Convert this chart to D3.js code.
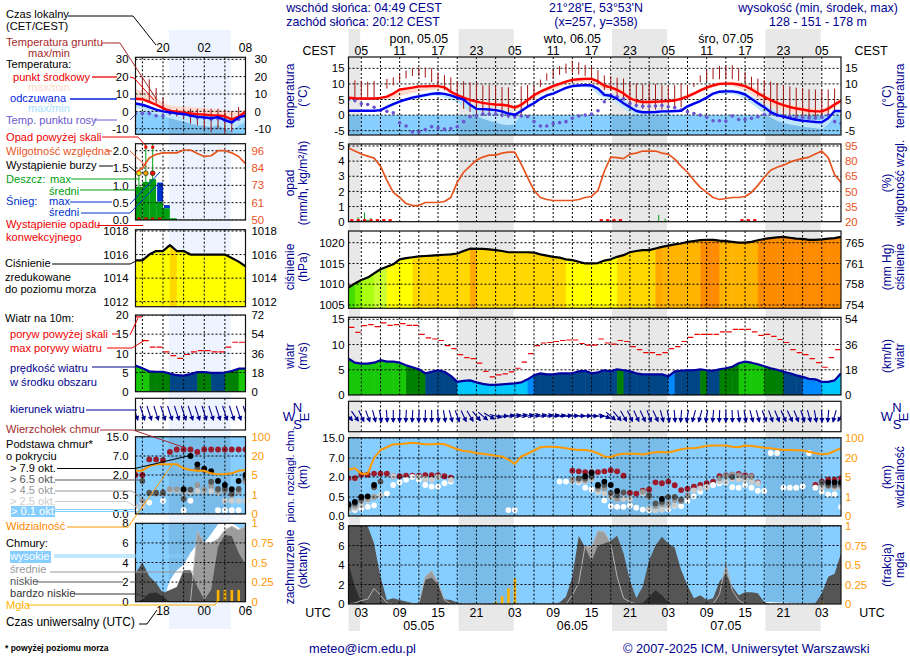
<!DOCTYPE html>
<html>
<head>
<meta charset="utf-8">
<script src="https://cdn.jsdelivr.net/npm/d3@7"></script>
<style>
html, body { margin: 0; padding: 0; background: #fff; }
svg { display: block; }
text { font-family: "Liberation Sans", Arial, sans-serif; font-size: 12px; }
.tick text { font-size: 11.4px; }
</style>
</head>
<body>
<script>
const _ = null;

// hours counted in UTC from 00:00 of 05.05, hourly model output
const hoursMain = d3.range(1, 79);
const hoursLeft = d3.range(14, 31);

// night (main) and dark part of the day (left column)
const nightsMain = [[1, 2.82], [18.2, 26.82], [42.2, 50.82], [66.2, 74.82]];
const nightsLeft = [[18.85, 27.85]];

// ---- temperature
const tempMean = [
  5.6,5.4,5.3,5.3,5.3,5.5,5.9,6.9,8.2,8.5,
  8.8,9.2,9.2,9.3,9.3,8.9,7.5,6.4,5.6,4.9,
  4.3,3.9,3.6,3.4,3.3,3,2.4,3.3,4.8,6.4,
  7.5,8.4,9.3,10,10.7,11.3,11.5,11.6,11.6,10.8,
  9.4,8.9,8.1,6.9,5.4,4.6,4.2,4.2,4.3,4.4,
  4.5,4.7,5.2,6,6.9,7.9,8.8,9.5,10,10.1,
  10.1,9.8,9.3,8.3,7,5.9,4.8,3.9,3.2,2.6,
  2.1,1.8,1.4,1.2,1.2,2,3.4,4.6];
const tempMax = [
  5.9,5.8,5.7,5.7,5.7,5.9,6.3,7.1,8.3,8.9,
  9.2,9.4,9.6,9.7,9.7,9.4,8.2,7.1,6.2,5.4,
  4.8,4.4,4.1,3.9,3.8,3.5,3,4,5.4,7,
  8.1,9.1,9.8,10.5,11.1,11.7,12,12.2,12.2,11.4,
  10.2,9.6,8.9,8,6.4,5.2,4.9,4.8,4.8,4.9,
  5,5.3,5.9,6.7,7.6,8.5,9.4,10.1,10.5,10.7,
  10.8,10.6,10.2,9.4,8.2,7,5.8,4.7,4,3.4,
  3,2.7,2.4,2.2,2.1,2.9,4,5.3];
const tempMin = [
  5,4.9,4.8,4.8,4.8,4.9,5.1,5.4,6,6.7,
  7.1,7.4,7.8,8,8.3,8.2,6.9,5.6,4.9,4.2,
  3.6,3.2,2.9,2.8,2.6,2.1,1.6,2.3,3.9,5.4,
  6.4,7.3,8.1,8.9,9.8,10.2,10.5,10.6,10.4,9.4,
  8.3,7.8,6.8,5.6,4.5,3.7,3.5,3.6,3.7,3.8,
  3.9,4.2,4.8,5.4,6.4,7.3,8,8.9,9.4,9.4,
  9.3,8.7,7.9,6.6,5.1,4,3.1,2.4,1.9,1.3,
  .8,.5,.2,.1,.1,.8,2.4,3.6];
const feelsMean = [
  1.4,1.4,1.4,1.4,1.4,1.6,2.6,3.5,4.3,5,
  5.6,6,6.4,6.8,7,6.8,6.3,5.6,5,3.3,
  2,1.9,1.8,1.6,1.2,.5,.1,1.3,2.7,3.8,
  5.2,6.3,6.9,7.8,8.7,9.3,9.5,9.6,9.5,8.5,
  6.5,6.2,5.2,3.8,2.5,1.3,.9,.9,1,1.2,
  1.2,1.3,1.4,2.8,3.7,4.5,5.6,6.9,7.5,7.6,
  7.6,7.3,6.6,5.2,3.8,2.5,1,0,-.5,-1,
  -1.5,-1.8,-2,-2.2,-2.3,-1,1.3,1.3];
const feelsMax = [
  1.6,1.6,1.6,1.6,1.6,1.9,3.2,4.1,4.8,5.5,
  6.2,6.7,7,7.4,7.5,7.1,6.5,5.8,5,3.8,
  2.4,2.2,2.1,1.9,1.6,1,.4,2,3.3,4.6,
  6,6.9,7.6,8.4,9.2,9.8,10,10.1,10,9,
  7.6,6.8,6.2,5.5,3.5,2.1,1.4,1.3,1.4,1.6,
  1.6,1.6,1.8,3.1,4,5.2,6.2,7.2,8,8.2,
  8.2,8,7.4,6.2,5,3.7,2.2,1,.2,-.4,
  -1,-1.3,-1.6,-1.7,-1.6,-.4,1.6,1.6];
const feelsMin = [
  1,1,1,1,1,1.2,2,3,4,4.8,
  5,5.4,5.8,6.2,6.2,5.6,5,4.2,2.6,.9,
  -.4,-1.2,-1.8,-2.4,-3,-3.2,-3,.5,2.4,3.6,
  5,6.1,6.6,7.5,8.3,8.8,8.9,9,8.5,6.5,
  5.5,4.8,3.8,2,.7,0,-.1,-.1,0,.2,
  .4,.7,1,2.3,3,4.2,5.2,6.4,6.7,6.8,
  6.8,6.2,5.2,3.6,2,.5,-.8,-1.8,-2.5,-3,
  -3.3,-3.7,-4,-4.2,-4.5,-3,-.3,.4];
const dewPoint = [
  5,4.6,3.6,3.4,2.5,1.5,1.2,.7,-2.5,-3.5,
  -5.4,-5.4,-4.6,-3.7,-4.1,-4.5,-4.3,-3.7,-2.1,-.5,
  -.3,.3,.3,.3,0,-.2,-.5,-.3,-.5,-2.1,
  -3.5,-3.5,-2.7,-2.4,-2.1,-1,-.3,0,.3,1.4,
  4.3,6.4,5.9,5.2,3.7,3.1,2.8,2.8,2.9,3.1,
  2.7,2.4,1.6,1.1,.5,0,-.7,-1.8,-1.8,-1.9,
  -.3,-1.4,-1.4,-1,-.5,.2,.5,0,-.4,-.5,
  -.7,-.8,-.9,-.9,-.7,0,-2.1,-2.7];
const groundMax = [
  _,11.1,11,10.7,10.9,_,11.6,12.1,13.2,14.3,
  15,15.2,15.2,15,13.6,12.8,12.1,10.9,10.9,10.5,
  10.1,9.6,9.6,9.4,9,8.9,_,9.3,9.6,9.6,
  11.4,13.4,14.7,15.7,16.5,17.4,16.9,16.1,15.5,14.4,
  12.7,12.5,12,11.7,10.3,10.1,9.9,9.9,9.9,9.6,
  9.4,9.6,10.1,9.6,10.3,12.7,14.4,15,15.8,15.8,
  16,15,13.9,12.3,11.7,11.2,10.7,10.3,9.6,9.2,
  8.8,8.7,8.3,8.2,8.2,8.2,8.5,_];
const groundMin = [
  _,5.7,5.7,5.7,5.7,_,8.5,9.5,10.5,11.8,
  12.5,12.5,12,10.5,9.3,8,7,4.8,2,1,
  .5,0,0,0,-.7,-1,_,0,2.5,4.8,
  9,11,11.8,12.9,13.4,13.6,13,12.5,11.5,10,
  8,8,6,5,3,2.5,2,2,1.8,1.8,
  2,2.2,2.5,5,9,10.5,10.8,11.5,11.5,11.5,
  11.5,11,10.5,8,6,3,1,.5,0,-.5,
  -1,-1,-1,-1,-1,-.3,1.5,_];

const tempMeanLeft = [7.3,7,5.4,3.8,1.9,.2,-.2,-.8,-1.2,-1.6,-1.9,-2.2,-2.4,-2.8,-4.7,-3,-.4];
const tempMaxLeft = [13,11.5,9.5,7.5,5,3.5,3,2.8,2.5,2.2,2,1.5,1.2,.7,0,.2,1];
const tempMinLeft = [6.8,6.4,4.8,3.2,1.4,-.3,-.7,-1.3,-1.7,-2.1,-2.4,-2.7,-2.9,-3.3,-5.2,-3.5,-.9];
const feelsMeanLeft = [4.5,3.8,2.5,1,0,-.5,-1.2,-1.5,-2.5,-3.2,-3.5,-4,-3.3,-5,-6.5,-3.5,-2.5];
const feelsMaxLeft = [5,4.3,3,1.5,.5,0,-.7,-1,-2,-2.7,-3,-3.5,-2.8,-4.5,-6,-3,-2];
const feelsMinLeft = [2,1,-.5,-2,-3,-4,-5,-6,-7,-8,-8.5,-9,-8,-10,-11,-8,-6];
const dewPointLeft = [-1.3,-1.3,-1.3,-2.5,-2.6,-1,-1,-2,-2.7,-3.7,-3.9,-4.5,-4.2,-5.2,-5.7,-4.5,-3];
const groundMaxLeft = [_,20,18.5,13.5,8,1.5,1.5,1.5,1.5,1.5,1.5,1.5,1.5,.5,0,2.5,_];
const groundMinLeft = [_,10,5.4,4.4,1,-2.3,-3,-4.2,-7,-8,-10,-12,-10,-13,-12,-5,_];

// ---- precipitation and humidity
const humidity = [
  93,90,87,85,83,75,61,49,44,38,
  36,36,39,39,39,40,44,59,69,75,
  81,84,86,86,88,89,89,77,64,51,
  44,42,41,41,41,41,42,44,45,51,
  70,84,83.5,82.5,87,88,90,90,90,88,
  87,82,75,69,61,54,49,44,42,43,
  44,44,45,49,56,64,71,74,76,79,
  81,82.5,84,87,90,83.5,66.5,59];
const humidityLeft = [81,84,91,93.5,94.5,94.5,94.5,96.5,96.5,94,92,92.5,96,96,94.5,92,87];
const rainHours = [2, 3, 4, 49, 50];
const rainMean = [0, .1, .05, 0, 0];
const rainPeak = [.3, .6, .25, .45, .2];
const convectiveHours = [1, 2, 3, 4, 5, 6, 7, 40, 41, 42, 43, 62, 63, 64];
const rainHoursLeft = [14, 15, 16, 17, 18, 19];
const rainMeanLeft = [.96, 1.1, 1.18, .53, .34, .05];
const rainPeakLeft = [1.35, 2.5, 2.5, _, _, _];
const snowPeakHoursLeft = [17, 18];
const snowPeakLeft = [1.08, .43];
const convectiveHoursLeft = [14, 15, 16, 17];
const stormHoursLeft = [14, 15, 16];
const stormLevelLeft = ['yellow', 'orange', 'red'];

// ---- pressure, hPa
const pressure = [
  1009.2,1010.2,1011,1011.6,1012.6,1013.6,1014.2,1014.8,1016,1016.3,
  1016.5,1016.7,1016.8,1016.9,1017,1017.1,1017.2,1017.4,1018,1018.55,
  1018.5,1018.5,1018.4,1018.2,1018,1017.7,1017.7,1017.7,1017.7,1017.6,
  1017.2,1016.9,1016.6,1016.4,1016,1015.8,1015.4,1015,1015,1015.1,
  1015.7,1016,1016.6,1017,1017.7,1018,1018.2,1018.2,1018.6,1019,
  1019.3,1019.6,1019.8,1020.2,1020.4,1020.6,1020.7,1020.7,1020.5,1020.4,
  1020.2,1020,1020,1020.2,1020.6,1020.9,1021.1,1021.3,1021.4,1021.2,
  1021,1020.9,1020.7,1020.7,1020.8,1021,1021.1,1021.4];
const pressureLeft = [1015.5,1015.5,1016,1016.3,1016.3,1016.8,1016.3,1016.3,1016,1016,1016,1016,1016,1016,1015.7,1015.4,1015];

// ---- wind, m/s
const windMean = [
  7.2,6.4,6.2,6.2,6.4,6.9,6.6,6.6,6.4,5.9,
  5.5,5.1,4.3,4.6,4.9,4.6,3.8,2.6,2.8,2.9,
  2.5,2.2,2,2,2.1,2.2,2.3,2.5,3.1,3.9,
  4.3,4.1,4.1,4.3,4.3,4.3,4.7,4.8,4.3,4.5,
  4.9,4.7,5.1,4.9,4.7,4.3,4.1,4.1,4.1,4.1,
  3.7,4.7,4.8,4.9,4.9,5.1,4.9,4.8,5.1,5.3,
  5.6,6.3,6.6,6.4,6.1,5.7,5.3,5,4.6,4.3,
  3.9,3.6,3.2,3.1,2.6,2.6,2.9,4.3];
const windGust = [
  13.4,12.4,13.75,13.95,13.55,14.3,13.8,13.95,14.15,13.8,
  13.8,12,11.3,11.1,10.8,9.8,9.2,8,7.4,7.2,
  6.3,4.7,3.6,4,4.2,4.6,5.3,6.5,8.2,9.8,
  10.3,10.4,10.6,10.8,10.9,10.9,10.2,9.9,9.9,11.1,
  10.3,10.1,10.8,10.6,9.6,9,8.4,8.4,8,8.4,
  9.2,9.6,10.6,11.4,12,12,12,12,12.5,12.5,
  13,13,13,12.5,11.8,12,11.6,11,10.4,9,
  8.4,8,7.2,6.4,5.5,7.4,9,_];
const windDir = [
  320,325,335,340,345,350,355,0,2,3,
  3,3,2,0,355,350,345,340,335,330,
  320,310,300,285,270,262,258,255,255,255,
  258,260,260,262,264,265,267,268,270,272,
  290,310,320,330,335,335,335,340,335,345,
  350,355,5,10,15,15,10,5,2,0,
  358,352,350,345,345,340,340,338,335,335,
  338,342,345,350,358,5,15,30];
const windMeanLeft = [6.8,6.1,5.3,5.2,5.2,4.7,4.3,4.2,4.6,5.1,5.1,4.9,4.9,5,5.4,6,6];
const windGustLeft = [19.5,13.3,11.6,11.6,10.4,9.4,8.7,9.7,10.4,10.7,10.7,10.4,10.4,11.6,12.9,12.9,_];
const windDirLeft = [342,342,342,342,342,342,342,342,342,342,342,342,342,342,342,342,342];

// ---- cloud base and top, km
const cloudTop = [
  1.92,1.92,2.6,2.6,2.9,2.9,2.9,2.2,2.2,2.35,
  2.35,2.35,2.5,2.5,2.5,2.2,1.95,_,_,_,
  _,_,_,_,_,_,_,_,_,_,
  _,_,_,_,_,3.67,3.5,3.3,3.3,3.3,
  3.5,3.8,3.5,2.35,.81,.76,.97,1.07,1.6,1.53,
  1.66,1.38,1.02,1.12,1.28,1.4,1.53,1.66,2.2,2.45,
  2.6,2.8,2.45,2.2,1.6,_,_,_,_,_,
  _,_,_,1.4,1.66,1.8,1.8,1.92];
const baseOver79 = [
  .31,.37,.5,.55,1.4,_,_,_,_,_,
  _,_,_,_,_,_,_,_,_,_,
  _,_,_,_,_,_,_,_,_,_,
  _,_,_,_,_,_,_,2.2,3.05,1.4,
  1.66,1.4,.95,_,_,_,_,_,_,.45,
  _,_,_,_,_,_,_,_,_,_,
  _,_,_,_,_,_,_,_,_,_,
  _,_,_,_,_,1.6,1.6,1.6];
const baseOver65 = [
  .27,.33,.45,_,1.23,1.66,_,_,_,_,
  _,_,_,_,_,_,_,_,_,_,
  _,_,_,_,_,_,_,_,_,_,
  _,_,_,_,_,_,1.9,1.9,2.2,1.3,
  1.4,.81,.63,.85,_,_,_,.63,.33,.37,
  .5,.5,.43,_,_,_,_,_,_,_,
  2,_,_,_,_,_,_,_,_,_,
  _,_,_,_,1.6,1.4,1.4,1.45];
const baseOver45 = [
  .2,.26,.4,.45,.5,_,_,_,_,_,
  _,_,_,_,_,_,_,_,_,_,
  _,_,_,_,_,_,_,_,_,_,
  _,_,_,_,_,1.8,1.8,1.75,1.95,1.1,
  1.15,.76,.45,.8,_,_,.89,.5,.26,.31,
  .33,.42,.39,.63,_,_,_,_,1.9,2.2,
  2.6,2.45,2,2,_,_,_,_,_,_,
  _,_,_,_,1.5,1.3,1.28,1.3];
const baseOver25 = [
  .155,.2,.28,.41,.5,.63,_,2.2,_,_,
  _,2,1.85,1.8,2,_,1.8,_,_,_,
  _,_,_,_,_,_,_,_,_,_,
  _,_,_,_,_,1.66,1.66,1.66,1.85,.9,
  .76,.5,.43,.45,.45,_,.76,.2,.155,.18,
  .24,.28,.39,.5,1,1.15,1.23,_,1.66,1.66,
  1.85,1.8,1.8,1.66,1.53,_,_,_,_,_,
  _,_,_,_,1.2,1.3,1.15,1.22];
const baseOver01 = [
  .155,.155,.2,.24,.28,.6,.76,1.4,1.6,1.8,
  2,1.8,1.4,1.28,1.28,1.53,1.66,_,_,_,
  _,_,_,_,_,.155,.155,_,_,_,
  _,_,_,1.66,1.66,_,1.6,1.2,1.07,.89,
  .41,.26,.24,.24,.28,.22,.17,.155,.155,.17,
  .18,.27,.26,.4,.55,.89,1.23,1.4,1.53,1.6,
  1.23,1.2,1.4,1.2,.97,.95,9,9,1.2,1.2,
  1.2,1.3,9,1.2,.89,.7,.7,.24];
const visibility = [
  10.8,12,7.6,7.6,20,52,63,75,75,78,
  81,78,75,75,77,75,65,55,48,46,
  39,37,33,29,26,18.7,15.3,26,37,50,
  63,65,65,63,59,55,52,52,48,39,
  26,24,33,37,37,37,34,39,43,44,
  42,48,55,59,59,63,69,70,70,70,
  65,63,70,68,65,61,59,55,52,52,
  51,50,45,39,35,37,48,59];

const cloudTopLeft = [2,2,6.1,6.1,5.9,8.7,9.7,9.7,9.7,8.7,9.7,9.7,9.7,9.7,9.7,9.7,9.7];
const baseOver79Left = [_,_,_,_,_,_,_,.93,7,4.8,3.7,3,1.55,1.25,.93,1.55,2];
const baseOver65Left = [_,1.55,.67,.67,.7,_,_,.4,.9,3.7,3.3,1.5,.95,.95,.6,.95,1.8];
const baseOver45Left = [_,.35,_,.6,.6,.93,.93,.8,.9,1.25,.9,1.2,.8,.8,.5,.75,1.5];
const baseOver25Left = [.2,.2,_,_,.65,.85,.85,.7,.75,.8,.8,.8,.7,.35,.35,.35,.35];
const baseOver01Left = [.15,.3,.3,_,.35,_,_,.1,.35,_,_,_,.1,.1,.1,.1,_];
const visibilityLeft = [8.4,8.4,12,13.4,13.4,13.4,13.4,10.3,9,8.4,8.4,6.3,5.5,5.8,6.3,8.4,9];

// ---- cloud cover, octants
const cloudHigh = [
  0,0,0,0,0,0,0,0,0,0,
  0,0,0,0,0,0,0,0,0,0,
  0,0,0,0,0,0,0,0,0,0,
  0,0,0,0,0,0,0,0,0,0,
  0,0,0,0,0,0,0,0,0,0,
  0,0,0,0,0,0,0,0,0,0,
  0,.1,.15,.2,.2,.2,.2,.15,.15,.1,
  .1,.1,.1,.1,.05,0,0,0];
const cloudMedium = [
  0,.1,.35,.5,1.6,.9,.1,0,0,0,
  0,0,2.8,3.4,2.2,.4,0,0,0,0,
  0,0,0,0,0,0,0,0,0,0,
  0,0,0,0,0,.9,2.2,6,5.8,7.5,
  7.4,6.2,2.8,.6,.2,0,0,0,0,0,
  0,0,0,0,0,0,0,0,1,4.1,
  1.4,.4,0,0,0,0,0,0,0,0,
  0,0,0,0,0,0,0,0];
const cloudLow = [
  8,8,8,8,6.2,2.8,.4,.6,.4,.25,
  .1,.1,2.5,2.7,2,.5,.4,.15,0,0,
  0,0,0,0,0,0,0,0,0,0,
  0,0,0,.15,.75,2.8,7,5.8,4.4,6,
  6.2,6.5,7,5.2,2.4,.6,1.8,4.5,6,6.9,
  6.2,5.8,3.5,1.9,.6,.9,.4,.6,2.3,3.1,
  1.8,.9,1.2,1.2,1.1,.2,0,0,0,0,
  0,0,0,.1,1.1,2.8,3.1,5.2];
const cloudVeryLow = [
  4.1,1.8,.2,0,0,0,0,0,0,0,
  0,0,0,0,0,0,0,0,0,0,
  0,0,0,0,0,0,0,0,0,0,
  0,0,0,0,0,0,0,0,0,0,
  0,0,0,0,0,0,.1,.75,1.4,.9,
  .2,0,0,0,0,0,0,0,0,0,
  0,0,0,0,0,0,0,0,0,0,
  0,0,0,0,0,0,0,0];
const fogHours = [24, 25, 26, 27, 75];
const fogFraction = [.03, .1, .2, .33, .02];

const cloudHighLeft = [0,0,0,0,0,2.2,3.2,3.8,5,5.9,6,6.9,7.9,8,8,7.6,6.5];
const cloudMediumLeft = [0,0,0,0,0,0,0,0,0,7.2,6,6,6.4,7.3,7.7,7.3,7.7];
const cloudLowLeft = [2.9,4,2.6,1.9,.9,1.2,1.5,3.2,3.2,1.5,.2,1.2,5.6,6.8,6.7,5,3.8];
const cloudVeryLowLeft = [0,.2,.85,.95,.5,0,0,0,0,0,0,0,0,0,0,0,0];
const fogHoursLeft = [26, 27, 28, 29];
const fogFractionLeft = [.15, .15, .15, .15];

// ---- tick labels
const tempTicks = [-5, 0, 5, 10, 15];
const tempTicksLeft = [-10, 0, 10, 20, 30];
const rainTicks = [0, 1, 2, 3, 4, 5];
const rainTicksLeft = [0, .5, 1, 1.5, 2];
const humidityTicks = [20, 35, 50, 65, 80, 95];
const humidityTicksLeft = [50, 61, 73, 84, 96];
const pressureTicks = [1005, 1010, 1015, 1020];
const pressureMmHg = [754, 758, 761, 765];
const pressureTicksLeft = [1012, 1014, 1016, 1018];
const windTicks = [0, 5, 10, 15];
const windKmh = [0, 18, 36, 54];
const windTicksLeft = [0, 5, 10, 15, 20];
const windKmhLeft = [0, 18, 36, 54, 72];
const baseTicks = [0, .5, 2, 7, 15];
const visTicks = [0, 1, 5, 20, 100];
const cloudTicks = [0, 2, 4, 6, 8];
const fogTicks = [0, .25, .5, .75, 1];

const cestHours = d3.range(3, 76, 6);
const cestLabels = ['05','11','17','23','05','11','17','23','05','11','17','23','05'];
const utcLabels = ['03','09','15','21','03','09','15','21','03','09','15','21','03'];
const dayHours = [12, 36, 60];
const dayCest = ['pon, 05.05', 'wto, 06.05', 'śro, 07.05'];
const dayUtc = ['05.05', '06.05', '07.05'];
const leftTimeHours = [18, 24, 30];
const leftCest = ['20', '02', '08'];
const leftUtc = ['18', '00', '06'];

const NAVY = '#000090';
const SKY = '#86ceff';
const RUST = '#e8541e';
const AMBER = '#ff9900';

const svg = d3.select('body').append('svg').attr('width', 910).attr('height', 660);

const pressureColor = d3.scaleThreshold()
  .domain([1010, 1011, 1012, 1014, 1016.35, 1018.52, 1018.7, 1020.55])
  .range(['#44dd00', '#77f000', '#aaff11', '#ccff33', '#ffff00', '#ffd800', '#ffa800', '#ffb400', '#ff8c00']);
const windColor = d3.scaleThreshold()
  .domain([3, 3.8, 5, 6])
  .range(['#00c8ff', '#0088ff', '#004585', '#008000', '#18c808']);
const stormColor = d3.scaleOrdinal(['yellow', 'orange', 'red'], ['#ffee00', '#ffa500', '#ee1100']);

let clipCount = 0;

function pairs(hours, values) {
  return hours.map((h, i) => [h, values[i]]);
}

// draws one column of seven panels
function drawColumn(c) {
  const g = svg.append('g');
  const x = c.x;

  g.selectAll('rect.night').data(c.nights).join('rect')
    .attr('x', d => x(d[0])).attr('width', d => x(d[1]) - x(d[0]))
    .attr('y', c.bandTop).attr('height', c.bandBottom - c.bandTop)
    .attr('fill', c.bandColor);

  function panel(p) {
    const id = 'clip' + (clipCount++);
    g.append('clipPath').attr('id', id).append('rect')
      .attr('x', x.range()[0]).attr('width', x.range()[1] - x.range()[0])
      .attr('y', p.top).attr('height', p.bottom - p.top);
    const inner = g.append('g').attr('clip-path', `url(#${id})`);
    return inner;
  }
  function shade(inner, top, bottom) {
    inner.selectAll('rect.shade').data(c.nights).join('rect').attr('class', 'shade')
      .attr('x', d => x(d[0])).attr('width', d => x(d[1]) - x(d[0]))
      .attr('y', top).attr('height', bottom - top)
      .attr('fill', '#000').attr('opacity', .085);
  }
  function grid(inner, p, y, ticks) {
    inner.selectAll('line.gx').data(d3.range(3, 78, 3).filter(h => h >= x.domain()[0] && h < x.domain()[1]))
      .join('line').attr('class', 'gx')
      .attr('x1', d => x(d)).attr('x2', d => x(d))
      .attr('y1', p.top).attr('y2', p.bottom)
      .attr('stroke', '#000').attr('stroke-dasharray', '2,2');
    if (!ticks) return;
    inner.selectAll('line.gy').data(ticks).join('line').attr('class', 'gy')
      .attr('x1', x.range()[0]).attr('x2', x.range()[1])
      .attr('y1', d => y(d)).attr('y2', d => y(d))
      .attr('stroke', '#000').attr('stroke-dasharray', '2,2');
  }
  function border(p) {
    g.append('rect')
      .attr('x', x.range()[0]).attr('width', x.range()[1] - x.range()[0])
      .attr('y', p.top).attr('height', p.bottom - p.top)
      .attr('fill', 'none').attr('stroke', '#111').attr('stroke-width', 1.2);
  }
  function axes(left, right, opts) {
    g.append('g').attr('transform', `translate(${x.range()[0]},0)`)
      .call(d3.axisLeft(left.y).tickValues(left.ticks).tickFormat(left.format || (d => d))
        .tickSize(0).tickPadding(c.padLeft))
      .call(s => s.select('.domain').remove());
    const a = g.append('g').attr('transform', `translate(${x.range()[1]},0)`)
      .call(d3.axisRight(right.y).tickValues(right.ticks).tickFormat(right.format || (d => d))
        .tickSize(0).tickPadding(right.pad || c.padRight))
      .call(s => s.select('.domain').remove());
    a.selectAll('text').attr('fill', right.color || '#000');
  }
  function seriesLine(inner, y, hours, values, color, width) {
    inner.append('path')
      .datum(pairs(hours, values).filter(d => d[1] !== null))
      .attr('fill', 'none').attr('stroke', color).attr('stroke-width', width)
      .attr('stroke-linejoin', 'round')
      .attr('d', d3.line().x(d => x(d[0])).y(d => y(d[1])));
  }
  function band(inner, y, hours, low, high, color) {
    inner.append('path')
      .datum(hours.map((h, i) => [h, low[i], high[i]]))
      .attr('fill', color)
      .attr('d', d3.area().x(d => x(d[0])).y0(d => y(d[1])).y1(d => y(d[2])));
  }
  function fromBase(inner, y, hours, values, color) {
    inner.append('path')
      .datum(pairs(hours, values))
      .attr('fill', color)
      .attr('d', d3.area().x(d => x(d[0])).y0(y(0)).y1(d => y(d[1])));
  }
  // colour columns clipped under the curve, used for pressure and wind fills
  function colourFill(inner, p, y, hours, values, scale) {
    const id = 'clip' + (clipCount++);
    g.append('clipPath').attr('id', id).append('path')
      .datum(pairs(hours, values))
      .attr('d', d3.area().x(d => x(d[0])).y0(p.bottom).y1(d => y(d[1])));
    inner.append('g').attr('clip-path', `url(#${id})`)
      .selectAll('rect').data(pairs(hours, values)).join('rect')
      .attr('x', d => x(d[0])).attr('width', d => x(d[0] + 1) - x(d[0]) + .5)
      .attr('y', p.top).attr('height', p.bottom - p.top)
      .attr('fill', d => scale(d[1]));
  }

  // temperature
  {
    const p = c.temp, y = p.y;
    const inner = panel(p);
    inner.append('rect').attr('x', x.range()[0]).attr('width', x.range()[1] - x.range()[0])
      .attr('y', y(0)).attr('height', p.bottom - y(0)).attr('fill', SKY);
    shade(inner, y(0), p.bottom);
    band(inner, y, c.hours, c.d.tempMin, c.d.tempMax, '#fddcd0');
    band(inner, y, c.hours, c.d.feelsMin, c.d.feelsMax, '#bfe6ff');
    grid(inner, p, y, p.ticks);
    inner.selectAll('line.ground').data(c.hours.map((h, i) => [h, c.d.groundMin[i], c.d.groundMax[i]]).filter(d => d[2] !== null))
      .join('line').attr('class', 'ground')
      .attr('x1', d => x(d[0])).attr('x2', d => x(d[0]))
      .attr('y1', d => y(d[1])).attr('y2', d => y(d[2]))
      .attr('stroke', '#a31414').attr('stroke-width', 1);
    inner.selectAll('circle').data(pairs(c.hours, c.d.dew)).join('circle')
      .attr('cx', d => x(d[0])).attr('cy', d => y(d[1])).attr('r', 1.8).attr('fill', '#6a55d0');
    seriesLine(inner, y, c.hours, c.d.tempMean, '#ff0000', 2.4);
    seriesLine(inner, y, c.hours, c.d.feelsMean, '#0000ee', 2.4);
    border(p);
    axes({y, ticks: p.ticks}, {y, ticks: p.ticks, pad: c.padTemp});
  }

  // precipitation, humidity
  {
    const p = c.rain, y = p.y, h = p.yHum;
    const inner = panel(p);
    if (c.d.rainColumns) {
      inner.selectAll('rect.rainc').data(pairs(c.d.rainHours, c.d.rainMean)).join('rect')
        .attr('x', d => x(d[0])).attr('width', d => x(d[0] + 1) - x(d[0]))
        .attr('y', d => y(d[1])).attr('height', d => y(0) - y(d[1])).attr('fill', '#00a010');
      inner.selectAll('rect.snowc').data(pairs(c.d.snowHours, c.d.snowPeak)).join('rect')
        .attr('x', d => x(d[0]) + 1).attr('width', d => x(d[0] + 1) - x(d[0]) - 1)
        .attr('y', d => y(d[1])).attr('height', (d, i) => y(c.d.rainMean[3 + i]) - y(d[1])).attr('fill', '#0033cc');
    } else {
      inner.selectAll('rect.rainc').data(pairs(c.d.rainHours, c.d.rainMean)).join('rect')
        .attr('x', d => x(d[0] + .2)).attr('width', d => x(d[0] + 1.2) - x(d[0] + .2))
        .attr('y', d => y(d[1])).attr('height', d => y(0) - y(d[1])).attr('fill', '#00a010');
    }
    grid(inner, p, y, p.ticks);
    inner.selectAll('line.peak').data(pairs(c.d.rainHours, c.d.rainPeak).filter(d => d[1] !== null)).join('line')
      .attr('class', 'peak')
      .attr('x1', d => x(d[0] + .5)).attr('x2', d => x(d[0] + .5))
      .attr('y1', y(0)).attr('y2', d => y(d[1]))
      .attr('stroke', '#00a010').attr('stroke-width', 1);
    inner.selectAll('rect.conv').data(c.d.convective).join('rect').attr('class', 'conv')
      .attr('x', d => x(d + .5) - 1.5).attr('width', 3.2)
      .attr('y', p.bottom - 2.5).attr('height', 2.2).attr('fill', '#ee0000');
    if (c.d.storm) {
      inner.selectAll('rect.over').data(c.d.storm.slice(1)).join('rect').attr('class', 'over')
        .attr('x', d => x(d + .5) - 1.5).attr('width', 3)
        .attr('y', p.top + 2).attr('height', 3).attr('fill', '#ee0000');
      inner.selectAll('circle.storm').data(c.d.storm).join('circle').attr('class', 'storm')
        .attr('cx', d => x(d + .5)).attr('cy', y(1.35)).attr('r', 2.4)
        .attr('fill', (d, i) => stormColor(c.d.stormLevel[i]))
        .attr('stroke', '#222').attr('stroke-width', .7);
    }
    seriesLine(inner, h, c.hours, c.d.humidity, RUST, 1.7);
    border(p);
    axes({y, ticks: p.ticks, format: c.rainFormat}, {y: h, ticks: p.humTicks, color: RUST});
  }

  // pressure
  {
    const p = c.press, y = p.y;
    const inner = panel(p);
    colourFill(inner, p, y, c.hours, c.d.pressure, pressureColor);
    grid(inner, p, y, p.ticks);
    seriesLine(inner, y, c.hours, c.d.pressure, '#000', 2.2);
    border(p);
    axes({y, ticks: p.ticks}, {y, ticks: p.ticks, format: p.rightFormat});
  }

  // wind
  {
    const p = c.wind, y = p.y;
    const inner = panel(p);
    colourFill(inner, p, y, c.hours, c.d.windMean, windColor);
    grid(inner, p, y, p.ticks);
    inner.selectAll('line.gust').data(pairs(c.hours, c.d.windGust).filter(d => d[1] !== null)).join('line')
      .attr('class', 'gust')
      .attr('x1', d => x(d[0]) + .5).attr('x2', d => x(d[0] + 1) - .5)
      .attr('y1', d => y(d[1])).attr('y2', d => y(d[1]))
      .attr('stroke', '#f00000').attr('stroke-width', 1.2);
    seriesLine(inner, y, c.hours, c.d.windMean, '#0000a0', 2.2);
    border(p);
    axes({y, ticks: p.ticks}, {y, ticks: p.ticks, format: p.rightFormat});
  }

  // wind direction
  {
    const p = c.dir;
    const inner = panel(p);
    grid(inner, p);
    const arrows = inner.selectAll('g').data(pairs(c.hours, c.d.windDir)).join('g')
      .attr('transform', d => `translate(${x(d[0])},${p.mid}) rotate(${d[1]})`);
    arrows.append('line').attr('y1', -p.len / 2).attr('y2', p.len / 2)
      .attr('stroke', '#000090').attr('stroke-width', 1.1);
    arrows.append('path').attr('fill', '#000090')
      .attr('d', `M0,${p.len / 2 + 1} L-2.6,${p.len / 2 - 4} L2.6,${p.len / 2 - 4} Z`);
    border(p);
  }

  // cloud base
  {
    const p = c.base, y = p.y, v = p.yVis;
    const inner = panel(p);
    inner.append('rect').attr('x', x.range()[0]).attr('width', x.range()[1] - x.range()[0])
      .attr('y', p.top).attr('height', p.bottom - p.top).attr('fill', SKY);
    shade(inner, p.top, p.bottom);
    const layers = [
      [c.d.top, '#9c1a2a'], [c.d.base01, '#ffffff'], [c.d.base25, '#cccccc'],
      [c.d.base45, '#999999'], [c.d.base65, '#555555'], [c.d.base79, '#000000']
    ];
    layers.forEach(([vals, col]) => {
      inner.append('g').selectAll('circle').data(pairs(c.hours, vals).filter(d => d[1] !== null)).join('circle')
        .attr('cx', d => x(d[0])).attr('cy', d => y(d[1])).attr('r', 2.9).attr('fill', col);
    });
    grid(inner, p, y, p.ticks);
    seriesLine(inner, v, c.hours, c.d.visibility, AMBER, 2);
    border(p);
    axes({y, ticks: p.ticks, format: d3.format('.1f')}, {y: v, ticks: p.visTicks, color: AMBER});
  }

  // cloud cover and fog
  {
    const p = c.cloud, y = p.y, f = p.yFog;
    const inner = panel(p);
    inner.append('rect').attr('x', x.range()[0]).attr('width', x.range()[1] - x.range()[0])
      .attr('y', p.top).attr('height', p.bottom - p.top).attr('fill', SKY);
    shade(inner, p.top, p.bottom);
    fromBase(inner, y, c.hours, c.d.high, '#ffffff');
    fromBase(inner, y, c.hours, c.d.medium, '#9c9c9c');
    fromBase(inner, y, c.hours, c.d.low, '#555555');
    fromBase(inner, y, c.hours, c.d.veryLow, '#2e2e2e');
    seriesLine(inner, y, c.hours, c.d.medium, '#b4b4b4', 1);
    inner.selectAll('rect.fog').data(pairs(c.d.fogHours, c.d.fog)).join('rect').attr('class', 'fog')
      .attr('x', d => x(d[0]) - 1.2).attr('width', 2.6)
      .attr('y', d => f(d[1])).attr('height', d => f(0) - f(d[1])).attr('fill', '#ffb400');
    grid(inner, p, y, p.ticks);
    border(p);
    axes({y, ticks: p.ticks}, {y: f, ticks: p.fogTicks, color: AMBER});
  }

  return g;
}

const mainX = d3.scaleLinear([1, 78], [348.5, 841]);
const leftX = d3.scaleLinear([14, 30], [135.5, 245.5]);

drawColumn({
  x: mainX, hours: hoursMain, nights: nightsMain,
  bandTop: 29, bandBottom: 631, bandColor: '#e8e8e8',
  padLeft: 4, padRight: 4, padTemp: 4,
  rainFormat: d => d,
  temp: {top: 57, bottom: 135, y: d3.scaleLinear([-5, 15], [130.7, 68.3]), ticks: tempTicks},
  rain: {top: 144, bottom: 221.7, y: d3.scaleLinear([0, 5], [221.7, 146]), ticks: rainTicks,
         yHum: d3.scaleLinear([20, 95], [221.7, 146]), humTicks: humidityTicks},
  press: {top: 231, bottom: 308.3, y: d3.scaleLinear([1005, 1020], [305, 242.7]), ticks: pressureTicks,
          rightFormat: (d, i) => pressureMmHg[i]},
  wind: {top: 317.3, bottom: 395, y: d3.scaleLinear([0, 15], [395, 319.3]), ticks: windTicks,
         rightFormat: (d, i) => windKmh[i]},
  dir: {top: 401.3, bottom: 431.7, mid: 416, len: 12},
  base: {top: 437.7, bottom: 516, y: d3.scaleLinear(baseTicks, [516, 497, 477, 458, 438]), ticks: baseTicks,
         yVis: d3.scaleLinear(visTicks, [516, 497, 477, 458, 438]), visTicks},
  cloud: {top: 525.7, bottom: 604, y: d3.scaleLinear([0, 8], [604, 526]), ticks: cloudTicks,
          yFog: d3.scaleLinear([0, 1], [604, 526]), fogTicks},
  d: {
    tempMean, tempMax, tempMin, feelsMean, feelsMax, feelsMin, dew: dewPoint, groundMax, groundMin,
    humidity, rainHours, rainMean, rainPeak, convective: convectiveHours,
    pressure, windMean, windGust, windDir,
    top: cloudTop, base79: baseOver79, base65: baseOver65, base45: baseOver45, base25: baseOver25, base01: baseOver01,
    visibility, high: cloudHigh, medium: cloudMedium, low: cloudLow, veryLow: cloudVeryLow,
    fogHours, fog: fogFraction
  }
});

drawColumn({
  x: leftX, hours: hoursLeft, nights: nightsLeft,
  bandTop: 30, bandBottom: 629, bandColor: '#edf4ff',
  padLeft: 7, padRight: 6, padTemp: 9,
  rainFormat: d3.format('.1f'),
  temp: {top: 57.3, bottom: 134.3, y: d3.scaleLinear([-10, 30], [128.7, 59.3]), ticks: tempTicksLeft},
  rain: {top: 143.7, bottom: 220, y: d3.scaleLinear([0, 2], [220, 150.7]), ticks: rainTicksLeft,
         yHum: d3.scaleLinear(humidityTicksLeft, [220, 202.7, 185, 168, 150.7]), humTicks: humidityTicksLeft},
  press: {top: 229.7, bottom: 306.7, y: d3.scaleLinear([1012, 1018], [301.7, 231]), ticks: pressureTicksLeft,
          rightFormat: d => d},
  wind: {top: 315, bottom: 391.7, y: d3.scaleLinear([0, 20], [391.7, 315]), ticks: windTicksLeft,
         rightFormat: (d, i) => windKmhLeft[i]},
  dir: {top: 398.3, bottom: 430, mid: 413, len: 15},
  base: {top: 436.7, bottom: 514, y: d3.scaleLinear(baseTicks, [514, 495, 475, 456, 436.7]), ticks: baseTicks,
         yVis: d3.scaleLinear(visTicks, [514, 495, 475, 456, 436.7]), visTicks},
  cloud: {top: 523.3, bottom: 601.7, y: d3.scaleLinear([0, 8], [601.7, 523.3]), ticks: cloudTicks,
          yFog: d3.scaleLinear([0, 1], [601.7, 523.3]), fogTicks},
  d: {
    tempMean: tempMeanLeft, tempMax: tempMaxLeft, tempMin: tempMinLeft,
    feelsMean: feelsMeanLeft, feelsMax: feelsMaxLeft, feelsMin: feelsMinLeft,
    dew: dewPointLeft, groundMax: groundMaxLeft, groundMin: groundMinLeft,
    humidity: humidityLeft, rainColumns: true, rainHours: rainHoursLeft, rainMean: rainMeanLeft, rainPeak: rainPeakLeft,
    snowHours: snowPeakHoursLeft, snowPeak: snowPeakLeft,
    convective: convectiveHoursLeft, storm: stormHoursLeft, stormLevel: stormLevelLeft,
    pressure: pressureLeft, windMean: windMeanLeft, windGust: windGustLeft, windDir: windDirLeft,
    top: cloudTopLeft, base79: baseOver79Left, base65: baseOver65Left, base45: baseOver45Left,
    base25: baseOver25Left, base01: baseOver01Left, visibility: visibilityLeft,
    high: cloudHighLeft, medium: cloudMediumLeft, low: cloudLowLeft, veryLow: cloudVeryLowLeft,
    fogHours: fogHoursLeft, fog: fogFractionLeft
  }
});

// ---- text helpers
function label(str, x, y, color, anchor, size) {
  return svg.append('text').attr('x', x).attr('y', y).attr('fill', color || '#000')
    .attr('text-anchor', anchor || 'start').style('font-size', (size || 11.1) + 'px').text(str);
}
function vlabel(str, x, y, color, size) {
  return svg.append('text').attr('transform', `translate(${x},${y}) rotate(-90)`)
    .attr('fill', color || NAVY).attr('text-anchor', 'middle').style('font-size', (size || 12) + 'px').text(str);
}
function leader(points, color, width) {
  svg.append('path').attr('d', d3.line()(points)).attr('fill', 'none')
    .attr('stroke', color).attr('stroke-width', width || 1);
}

// header
label('wschód słońca: 04:49 CEST', 364, 12, NAVY, 'middle', 12.4);
label('zachód słońca: 20:12 CEST', 363, 26, NAVY, 'middle', 12.4);
label("21°28'E, 53°53'N", 596, 12, NAVY, 'middle', 12.4);
label('(x=257,  y=358)', 596, 26, NAVY, 'middle', 12.4);
label('wysokość (min, środek, max)', 818, 12, NAVY, 'middle', 12.4);
label('128 - 151 - 178 m', 818, 26, NAVY, 'middle', 12.4);

// time axes of the main column
cestHours.forEach((h, i) => label(cestLabels[i], mainX(h), 55, '#000', 'middle', 12.4));
cestHours.forEach((h, i) => label(utcLabels[i], mainX(h), 617, '#000', 'middle', 12.4));
dayHours.forEach((h, i) => {
  label(dayCest[i], mainX(h), 43, '#000', 'middle', 12.4);
  label(dayUtc[i], mainX(h), 630, '#000', 'middle', 12.4);
});
label('CEST', 319, 55, '#000', 'middle', 12.4);
label('CEST', 871, 55, '#000', 'middle', 12.4);
label('UTC', 318, 617, '#000', 'middle', 12.4);
label('UTC', 872, 617, '#000', 'middle', 12.4);

// time axes of the left column
leftTimeHours.forEach((h, i) => {
  label(leftCest[i], leftX(h), 52, '#000', 'middle', 12);
  label(leftUtc[i], leftX(h), 615, '#000', 'middle', 12);
});

// axis titles
vlabel('temperatura', 294, 96); vlabel('(°C)', 307, 96);
vlabel('(°C)', 891, 96); vlabel('temperatura', 904, 96);
vlabel('opad', 294, 183); vlabel('(mm/h, kg/m²/h)', 307, 183);
vlabel('(%)', 891, 183); vlabel('wilgotność wzgl.', 904, 183);
vlabel('ciśnienie', 294, 267); vlabel('(hPa)', 307, 267);
vlabel('(mm Hg)', 891, 267); vlabel('ciśnienie', 904, 267);
vlabel('wiatr', 294, 356); vlabel('(m/s)', 307, 356);
vlabel('(km/h)', 891, 356); vlabel('wiatr', 904, 356);
vlabel('pion. rozciągł. chm.', 294, 475, NAVY, 11); vlabel('(km)', 307, 477);
vlabel('(km)', 891, 477); vlabel('widzialność', 904, 477);
vlabel('zachmurzenie', 294, 567); vlabel('(oktanty)', 307, 565);
vlabel('(frakcja)', 891, 565); vlabel('mgła', 904, 565);

// compass
[[289, 297.5, 305], [887, 897, 904]].forEach(([w, n, e]) => {
  label('W', w, 421, NAVY, 'middle', 13);
  label('N', n, 412, NAVY, 'middle', 13);
  label('S', n, 429, NAVY, 'middle', 13);
  svg.append('text').attr('transform', `translate(${e + 4},417) rotate(-90)`)
    .attr('fill', NAVY).attr('text-anchor', 'middle').style('font-size', '13px').text('E');
});

// footer
label('meteo@icm.edu.pl', 309, 653, NAVY, 'start', 12.8);
label('© 2007-2025 ICM, Uniwersytet Warszawski', 623, 653, NAVY, 'start', 12.8);
label('* powyżej poziomu morza', 5, 651, '#000', 'start', 8.5).style('font-weight', 'bold');

// legend of the left column
const BROWN = '#a52a2a', RED = '#ee0000', BLUE = '#0022dd', GREEN = '#00a010', SNOW = '#0033cc', SLATE = '#6a5acd';

label('Czas lokalny', 6, 18);
label('(CET/CEST)', 6, 30);
leader([[68, 16], [133, 16], [156, 45]], '#000');

label('Temperatura gruntu', 6, 46, BROWN);
label('max/min', 28, 57, BROWN);
leader([[102, 43], [120, 43], [157, 100]], BROWN);
label('Temperatura:', 6, 68);
label('punkt środkowy', 13, 81, RED);
leader([[92, 77], [117, 77]], RED, 1.3);
leader([[130, 77], [134, 78], [154, 100]], RED);
label('max/min', 28, 91, '#fcdccb');
label('odczuwana', 10, 102, BLUE);
leader([[70, 99], [117, 99]], BLUE, 1.3);
leader([[130, 99], [136, 99]], BLUE, 1.3);
label('max/min', 28, 112, '#a8e0ff');
label('Temp. punktu rosy', 6, 124, SLATE);
leader([[94, 120], [117, 120]], SLATE);
leader([[130, 120], [135, 115]], SLATE);

label('Opad powyżej skali', 6, 141, RED);
leader([[102, 137], [138, 137], [146, 146]], RED);
label('Wilgotność względna', 6, 155, RUST);
leader([[106, 151], [112, 151]], RUST);
leader([[130, 151], [147, 167]], RUST);
label('Wystąpienie burzy', 6, 169);
leader([[99, 166], [113, 166]], '#000');
leader([[129, 166], [136, 172]], '#000');
label('Deszcz:', 6, 183, GREEN);
label('max', 50, 183, GREEN);
leader([[71, 179], [139, 179]], GREEN);
label('średni', 49, 195, GREEN);
leader([[80, 190], [142, 190]], GREEN);
label('Śnieg:', 6, 205, SNOW);
label('max', 49, 205, SNOW);
leader([[70, 202], [112, 202]], SNOW);
leader([[130, 204], [160, 172]], SNOW);
label('średni', 49, 216, SNOW);
leader([[81, 213], [130, 213], [157, 185]], SNOW);
label('Wystąpienie opadu', 6, 228, RED);
leader([[97, 225.5], [143, 225.5]], RED);
label('konwekcyjnego', 6, 241, RED);

label('Ciśnienie', 5, 267);
label('zredukowane', 5, 281);
label('do poziomu morza', 5, 293);
leader([[52, 264], [130, 264], [136, 261]], '#000');

label('Wiatr na 10m:', 5, 322);
label('poryw powyżej skali', 10, 338, RED);
leader([[112, 334], [118, 334]], RED);
leader([[130, 335], [138, 318]], RED);
label('max porywy wiatru', 10, 352, RED);
leader([[107, 348], [132, 348], [145, 340]], RED);
label('prędkość wiatru', 10, 372, NAVY);
leader([[92, 367], [136, 367]], NAVY);
label('w środku obszaru', 10, 386, NAVY);
label('kierunek wiatru', 10, 413, NAVY);
leader([[86, 410], [137, 410]], NAVY);

label('Wierzchołek chmur', 6, 433, BROWN);
leader([[100, 430], [133, 430], [183, 447]], BROWN);
label('Podstawa chmur*', 6, 448);
label('o pokryciu', 6, 460);
label('> 7.9 okt.', 10, 472);
leader([[57, 468.5], [135, 468.5], [192, 455]], '#000');
label('> 6.5 okt.', 10, 483, '#555');
leader([[55, 480], [143, 480]], '#555');
label('> 4.5 okt.', 10, 494, '#999');
leader([[55, 491], [132, 491], [143, 500]], '#999');
label('> 2.5 okt.', 10, 505, '#ccc');
leader([[55, 501.5], [127, 501.5], [136, 507]], '#ccc');
svg.append('rect').attr('x', 11).attr('y', 506).attr('width', 44).attr('height', 11).attr('fill', SKY);
label('> 0.1 okt.', 11, 515, '#fff');
leader([[55, 509.5], [135, 509.5]], SKY);
leader([[55, 511.5], [135, 511.5]], SKY);
label('Widzialność', 6, 530, '#ff8800');
leader([[67, 527], [128, 527], [172, 465]], AMBER);

label('Chmury:', 6, 547);
svg.append('rect').attr('x', 10).attr('y', 551).attr('width', 41).attr('height', 12).attr('fill', SKY);
label('wysokie', 10, 560, '#fff');
leader([[54, 555], [187, 555]], SKY);
leader([[54, 557], [187, 557]], SKY);
label('średnie', 10, 573, '#999');
leader([[50, 572], [193, 572]], '#999');
label('niskie', 10, 585, '#555');
leader([[36, 582], [123, 582]], '#555');
leader([[130, 582], [137, 582]], '#555');
label('bardzo niskie', 10, 597, '#333');
leader([[74, 594], [135, 594], [150, 597]], '#333');
label('Mgła', 6, 609, '#ffb400');
leader([[27, 605], [215, 605], [218, 600]], '#ffb400');

label('Czas uniwersalny (UTC)', 6, 626, '#000', 'start', 11.9);
leader([[139, 624], [147, 624], [157, 610]], '#000');
</script>
</body>
</html>
